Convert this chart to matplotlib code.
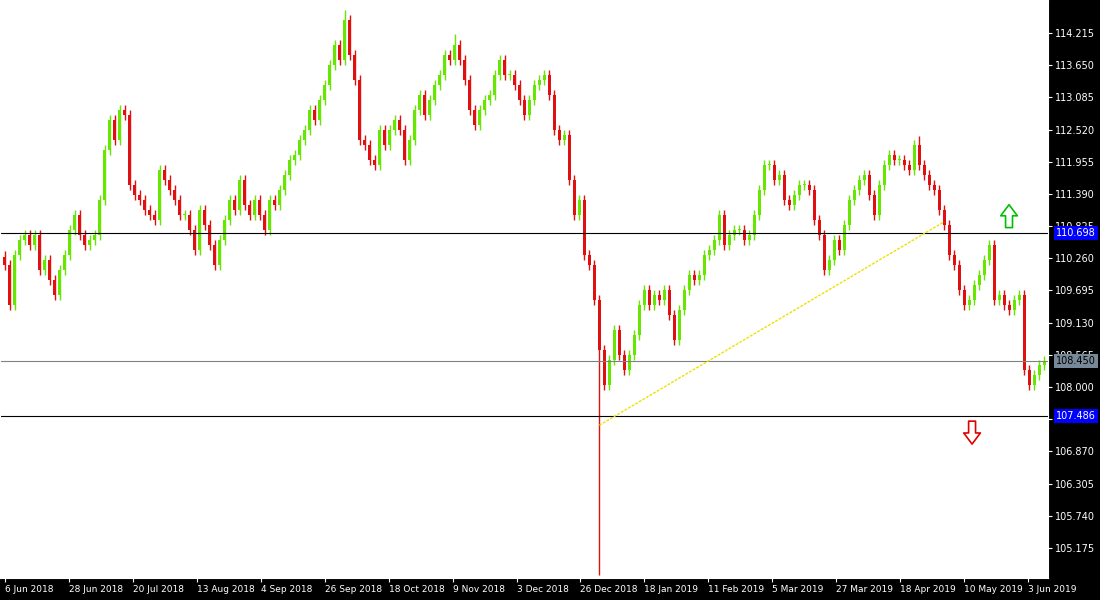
import matplotlib
matplotlib.use("Agg")
import matplotlib.pyplot as plt
import numpy as np

closes = [110.14,109.44,110.32,110.58,110.67,110.49,110.67,110.06,110.23,109.88,109.62,110.06,110.32,110.76,111.02,110.67,110.49,110.58,110.67,111.28,
          112.16,112.69,112.34,112.86,112.78,111.55,111.37,111.28,111.11,111.02,110.93,111.81,111.63,111.46,111.28,111.02,111.02,110.76,110.41,111.11,
          110.84,110.49,110.14,110.58,110.93,111.28,111.11,111.63,111.20,111.02,111.28,111.02,110.76,111.28,111.20,111.46,111.72,111.99,112.07,112.34,
          112.51,112.86,112.69,113.04,113.30,113.65,114.00,113.74,114.44,113.83,113.39,112.34,112.25,111.99,111.90,112.51,112.25,112.51,112.69,112.51,
          111.99,112.34,112.86,113.13,112.78,113.04,113.30,113.48,113.83,113.74,114.00,113.74,113.39,112.86,112.60,112.86,113.04,113.13,113.48,113.74,
          113.48,113.48,113.30,113.04,112.78,113.04,113.30,113.39,113.48,113.13,112.51,112.34,112.42,111.63,111.02,111.28,110.32,110.14,109.53,108.65,
          108.04,108.48,109.00,108.56,108.30,108.56,108.91,109.44,109.70,109.44,109.62,109.53,109.70,109.27,108.83,109.35,109.70,109.97,109.88,109.97,
          110.32,110.41,110.58,111.02,110.49,110.67,110.76,110.76,110.58,110.67,111.02,111.46,111.90,111.90,111.63,111.72,111.28,111.20,111.37,111.55,
          111.55,111.46,110.93,110.67,110.06,110.23,110.58,110.41,110.84,111.28,111.46,111.63,111.72,111.37,111.02,111.55,111.90,112.07,111.99,111.99,
          111.90,111.81,112.25,111.90,111.72,111.55,111.46,111.11,110.84,110.32,110.14,109.70,109.44,109.53,109.79,109.97,110.23,110.49,109.53,109.62,
          109.44,109.35,109.53,109.62,108.30,108.04,108.21,108.39,108.45]
special_low = {119: 104.70}
special_high = {68: 114.62, 90: 114.20, 183: 112.40}

tick_labels = ["6 Jun 2018","28 Jun 2018","20 Jul 2018","13 Aug 2018","4 Sep 2018","26 Sep 2018",
               "18 Oct 2018","9 Nov 2018","3 Dec 2018","26 Dec 2018","18 Jan 2019","11 Feb 2019",
               "5 Mar 2019","27 Mar 2019","18 Apr 2019","10 May 2019","3 Jun 2019"]
y_ticks = [114.215,113.650,113.085,112.520,111.955,111.390,110.825,110.260,109.695,109.130,
           108.565,108.000,107.435,106.870,106.305,105.740,105.175]
levels = [110.698, 108.450, 107.486]
level_colors = ["#0000ff", "#778899", "#0000ff"]
trend = [(119, 107.33), (188, 110.90)]

fig = plt.figure(figsize=(11, 6), dpi=100, facecolor="black")
ax = fig.add_axes([0, 22/600, 1048/1100, 578/600])
ax.set_facecolor("white")
n = len(closes)
opens = [closes[0] + 0.15] + closes[:-1]
for i in range(n):
    o, c = opens[i], closes[i]
    col = "#66e600" if c >= o else "#e01010"
    hi = special_high.get(i, max(o, c) + 0.09)
    lo = special_low.get(i, min(o, c) - 0.09)
    ax.vlines(i, lo, hi, color=col, lw=1)
    ax.bar(i, max(abs(c - o), 0.02), bottom=min(o, c), width=0.6, color=col, lw=0)

for lv, lc in zip(levels, level_colors):
    ax.axhline(lv, color="black" if lc != "#778899" else "#808080", lw=0.8)
ax.plot([trend[0][0], trend[1][0]], [trend[0][1], trend[1][1]], color="#f0e000", lw=1, ls=(0, (2, 1)))

ax.set_xlim(-1, 208.8)
ax.set_ylim(104.648, 114.794)
ax.yaxis.tick_right()
ax.set_yticks(y_ticks)
ax.set_yticklabels([f"{v:.3f}" for v in y_ticks], color="white", fontsize=7)
ax.set_xticks([k * 12.8 for k in range(len(tick_labels))])
ax.set_xticklabels(tick_labels, color="white", fontsize=6.5, ha="left")
ax.tick_params(colors="white", length=3, direction="out", pad=2)
for s in ax.spines.values():
    s.set_color("white")
for lv, lc in zip(levels, level_colors):
    ax.annotate(f"{lv:.3f}", xy=(1.0, lv), xycoords=("axes fraction", "data"),
                xytext=(6, 0), textcoords="offset points", va="center", ha="left",
                fontsize=7, color="white" if lc != "#778899" else "black",
                bbox=dict(boxstyle="square,pad=0.2", fc=lc, ec="none"), annotation_clip=False)

ax.annotate("", xy=(201, 111.25), xytext=(201, 110.75),
            arrowprops=dict(arrowstyle="simple,head_width=1.2,head_length=0.8,tail_width=0.5", fc="white", ec="#00c000", lw=1.2))
ax.annotate("", xy=(193.6, 106.95), xytext=(193.6, 107.45),
            arrowprops=dict(arrowstyle="simple,head_width=1.2,head_length=0.8,tail_width=0.5", fc="white", ec="#e00000", lw=1.2))
fig.savefig("out.png", dpi=100, facecolor="black")
